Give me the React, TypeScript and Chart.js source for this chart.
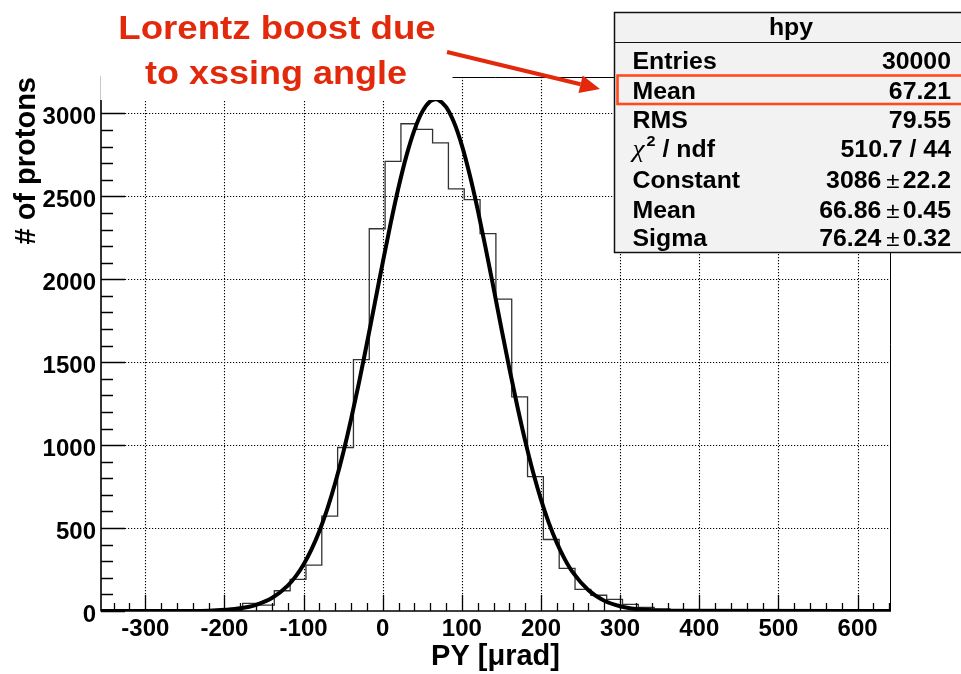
import React, { useEffect, useRef } from "react";
import { Chart, registerables } from "chart.js";

Chart.register(...registerables);

// ---- data ----
const BIN_START = -357;
const BIN_WIDTH = 20;
const BIN_COUNTS = [
  0, 0, 0, 0, 0, 0, 0, 1, 6, 46,
  35, 122, 191, 277, 572, 986, 1516, 2305, 2711, 2938,
  2904, 2823, 2546, 2480, 2275, 1880, 1291, 810, 431, 257,
  130, 95, 70, 40, 22, 12, 4, 1, 0, 0,
  0, 0, 0, 0, 0, 0, 0, 0, 0, 0,
];

const FIT_X = [
  -356, -240, -220, -200, -180, -160, -140, -120, -110, -100, -90, -80, -70, -60, -50,
  -40, -30, -20, -10, 0, 10, 20, 30, 40, 50, 60, 67, 70, 80, 90, 100, 110, 120, 130,
  140, 150, 160, 170, 180, 190, 200, 210, 220, 230, 240, 260, 280, 300, 320, 340, 360,
  380, 641,
];
const FIT_Y = [
  0, 0.5, 2, 7, 16, 37, 78, 153, 209, 281, 372, 483, 616, 773, 953,
  1156, 1377, 1613, 1857, 2101, 2337, 2555, 2746, 2900, 3011, 3074, 3086, 3083, 3040, 2947, 2808, 2629, 2420, 2190,
  1948, 1703, 1463, 1236, 1026, 837, 672, 530, 411, 313, 234, 125, 62, 29, 12, 5, 2,
  1, 0,
];

const X_TICKS = [-300, -200, -100, 0, 100, 200, 300, 400, 500, 600];
const Y_TICKS = [0, 500, 1000, 1500, 2000, 2500, 3000];
const X_MIN = -356;
const X_MAX = 641;
const Y_MAX = 3220;

const X_TITLE = "PY [\u03bcrad]";
const Y_TITLE = "# of protons";
const NOTE_LINES = ["Lorentz boost due", "to xssing angle"];

const STAT_TITLE = "hpy";
const STAT_LABELS = ["Entries", "Mean", "RMS", "chi2 / ndf", "Constant", "Mean", "Sigma"];
const STAT_VALUES = ["30000", "67.21", "79.55", "510.7 / 44", "3086", "66.86", "76.24"];
const STAT_ERRORS = ["", "", "", "", "22.2", "0.45", "0.32"];

const FONT = "'Liberation Sans', Arial, Helvetica, sans-serif";
const RED_TEXT = "#e2290c";
const RED_BOX = "#ff4a1d";

function drawText(
  ctx: CanvasRenderingContext2D,
  s: string,
  x: number,
  y: number,
  font: string,
  align: "left" | "right" | "center",
  color: string,
  sx = 1
) {
  ctx.save();
  ctx.font = font;
  ctx.fillStyle = color;
  ctx.textBaseline = "alphabetic";
  ctx.textAlign = "left";
  const w = ctx.measureText(s).width * sx;
  const left = align === "left" ? x : align === "right" ? x - w : x - w / 2;
  ctx.translate(left, y);
  ctx.scale(sx, 1);
  ctx.fillText(s, 0, 0);
  ctx.restore();
  return w;
}

const rootPlugin = {
  id: "rootDecor",
  beforeDraw(chart: any) {
    const ctx = chart.ctx as CanvasRenderingContext2D;
    ctx.save();
    ctx.fillStyle = "#ffffff";
    ctx.fillRect(0, 0, chart.width, chart.height);
    ctx.restore();
  },
  beforeDatasetsDraw(chart: any) {
    const ctx = chart.ctx as CanvasRenderingContext2D;
    const { left, right, top, bottom } = chart.chartArea;
    const xs = chart.scales.x;
    const ys = chart.scales.y;
    ctx.save();
    ctx.strokeStyle = "#000";
    ctx.lineWidth = 1.1;
    ctx.setLineDash([1.2, 1.8]);
    ctx.beginPath();
    for (const v of X_TICKS) {
      const px = Math.round(xs.getPixelForValue(v)) + 0.5;
      ctx.moveTo(px, top);
      ctx.lineTo(px, bottom);
    }
    for (const v of Y_TICKS) {
      if (v === 0) continue;
      const py = Math.round(ys.getPixelForValue(v)) + 0.5;
      ctx.moveTo(left, py);
      ctx.lineTo(right, py);
    }
    ctx.stroke();
    ctx.restore();
  },
  afterDatasetsDraw(chart: any) {
    const ctx = chart.ctx as CanvasRenderingContext2D;
    const { left, right, top, bottom } = chart.chartArea;
    const xs = chart.scales.x;
    const ys = chart.scales.y;

    // frame
    ctx.save();
    ctx.strokeStyle = "#000";
    ctx.lineWidth = 1;
    ctx.beginPath();
    ctx.moveTo(left, top + 0.5);
    ctx.lineTo(right + 0.5, top + 0.5);
    ctx.lineTo(right + 0.5, bottom);
    ctx.stroke();

    // axes
    ctx.lineWidth = 1.6;
    ctx.beginPath();
    ctx.moveTo(left - 0.5, bottom);
    ctx.lineTo(right + 1, bottom);
    ctx.moveTo(left, bottom);
    ctx.lineTo(left, top);
    ctx.stroke();

    // x ticks (inside)
    ctx.lineWidth = 1.3;
    ctx.beginPath();
    for (let v = Math.ceil(X_MIN / 20) * 20; v <= X_MAX; v += 20) {
      const px = Math.round(xs.getPixelForValue(v)) + 0.5;
      const len = v % 100 === 0 ? 16 : 8;
      ctx.moveTo(px, bottom);
      ctx.lineTo(px, bottom - len);
    }
    // y ticks (inside)
    for (let v = 0; v <= Y_MAX; v += 100) {
      const py = Math.round(ys.getPixelForValue(v)) + 0.5;
      const len = v % 500 === 0 ? 24 : 12;
      ctx.moveTo(left, py);
      ctx.lineTo(left + len, py);
    }
    ctx.stroke();
    ctx.restore();

    // white background of the annotation
    ctx.save();
    ctx.fillStyle = "#fff";
    ctx.fillRect(left - 0.5, 0, 453 - left, 100);
    ctx.strokeStyle = "#c8c8c8";
    ctx.lineWidth = 1;
    ctx.beginPath();
    ctx.moveTo(left - 0.5, top - 1);
    ctx.lineTo(left - 0.5, 100);
    ctx.stroke();
    ctx.restore();

    // annotation text
    const noteFont = `bold 33px ${FONT}`;
    drawText(ctx, NOTE_LINES[0], 277, 38.5, noteFont, "center", RED_TEXT, 1.11);
    drawText(ctx, NOTE_LINES[1], 276, 83.5, noteFont, "center", RED_TEXT, 1.09);

    // arrow
    ctx.save();
    ctx.strokeStyle = RED_TEXT;
    ctx.fillStyle = RED_TEXT;
    ctx.lineWidth = 4;
    const ax0 = 447, ay0 = 52, ax1 = 600, ay1 = 89;
    const ang = Math.atan2(ay1 - ay0, ax1 - ax0);
    const hl = 20, hw = 9;
    const bx = ax1 - hl * Math.cos(ang), by = ay1 - hl * Math.sin(ang);
    ctx.beginPath();
    ctx.moveTo(ax0, ay0);
    ctx.lineTo(bx, by);
    ctx.stroke();
    ctx.beginPath();
    ctx.moveTo(ax1, ay1);
    ctx.lineTo(bx + hw * Math.sin(ang), by - hw * Math.cos(ang));
    ctx.lineTo(bx - hw * Math.sin(ang), by + hw * Math.cos(ang));
    ctx.closePath();
    ctx.fill();
    ctx.restore();

    // stats box
    const bL = 614.5, bT = 12.5, bR = 968, bB = 252.5;
    ctx.save();
    ctx.fillStyle = "#f2f2f2";
    ctx.fillRect(bL, bT, bR - bL, bB - bT);
    ctx.strokeStyle = "#111";
    ctx.lineWidth = 1.5;
    ctx.strokeRect(bL, bT, bR - bL, bB - bT);
    ctx.lineWidth = 1.2;
    ctx.beginPath();
    ctx.moveTo(bL, 42.5);
    ctx.lineTo(bR, 42.5);
    ctx.stroke();
    ctx.restore();

    const sFont = `bold 23px ${FONT}`;
    const sx = 1.08;
    drawText(ctx, STAT_TITLE, 791, 35, sFont, "center", "#000", sx);
    const baselines = [68.5, 98.5, 127.5, 157, 188, 218, 246];
    const lx = 632.5, rx = 951;
    for (let i = 0; i < STAT_LABELS.length; i++) {
      const yb = baselines[i];
      if (STAT_LABELS[i] === "chi2 / ndf") {
        let cx = lx;
        cx += drawText(ctx, "\u03c7", cx, yb, `italic 25px 'Liberation Serif', serif`, "left", "#000", 1.1);
        cx += 2;
        cx += drawText(ctx, "2", cx, yb - 11, `bold 15px ${FONT}`, "left", "#000", sx);
        drawText(ctx, " / ndf", cx, yb, sFont, "left", "#000", sx);
      } else {
        drawText(ctx, STAT_LABELS[i], lx, yb, sFont, "left", "#000", sx);
      }
      if (STAT_ERRORS[i]) {
        let cx = rx;
        cx -= drawText(ctx, STAT_ERRORS[i], cx, yb, sFont, "right", "#000", sx);
        cx -= 3;
        cx -= drawText(ctx, "\u00b1", cx, yb, `22px ${FONT}`, "right", "#000", 1.1);
        cx -= 5;
        drawText(ctx, STAT_VALUES[i], cx, yb, sFont, "right", "#000", sx);
      } else {
        drawText(ctx, STAT_VALUES[i], rx, yb, sFont, "right", "#000", sx);
      }
    }

    // highlight rectangle around the Mean row
    ctx.save();
    ctx.strokeStyle = RED_BOX;
    ctx.lineWidth = 2.6;
    ctx.strokeRect(617.5, 75.5, 400, 28.5);
    ctx.restore();
  },
};

export default function App() {
  const ref = useRef<HTMLCanvasElement | null>(null);

  useEffect(() => {
    if (!ref.current) return;
    const histPoints = BIN_COUNTS.map((c, i) => ({ x: BIN_START + i * BIN_WIDTH, y: c }));
    histPoints.push({ x: BIN_START + BIN_COUNTS.length * BIN_WIDTH, y: 0 });
    const fitPoints = FIT_X.map((x, i) => ({ x, y: FIT_Y[i] }));

    const tickFont = { family: FONT, size: 24, weight: "bold" as const };

    const chart = new Chart(ref.current, {
      type: "line",
      data: {
        datasets: [
          {
            label: "fit",
            data: fitPoints,
            borderColor: "#000",
            borderWidth: 4,
            pointRadius: 0,
            fill: false,
            cubicInterpolationMode: "monotone",
          },
          {
            label: "hpy",
            data: histPoints,
            borderColor: "#333",
            borderWidth: 1.3,
            pointRadius: 0,
            fill: false,
            stepped: "before",
          },
        ],
      },
      options: {
        animation: false,
        responsive: true,
        maintainAspectRatio: false,
        layout: { padding: { left: 0, right: 71, top: 77, bottom: 0 } },
        plugins: { legend: { display: false }, tooltip: { enabled: false } },
        scales: {
          x: {
            type: "linear",
            min: X_MIN,
            max: X_MAX,
            afterBuildTicks: (s: any) => {
              s.ticks = X_TICKS.map((v) => ({ value: v }));
            },
            afterFit: (s: any) => {
              s.height = 63;
            },
            grid: { display: false, drawTicks: false },
            border: { display: false },
            ticks: {
              font: tickFont,
              color: "#000",
              padding: 4,
              maxRotation: 0,
              autoSkip: false,
              callback: (v: any) => String(v),
            },
            title: {
              display: true,
              text: X_TITLE,
              align: "center",
              color: "#000",
              font: { family: FONT, size: 29, weight: "bold" },
              padding: { top: 0, bottom: 0 },
            },
          },
          y: {
            type: "linear",
            min: 0,
            max: Y_MAX,
            afterBuildTicks: (s: any) => {
              s.ticks = Y_TICKS.map((v) => ({ value: v }));
            },
            afterFit: (s: any) => {
              s.width = 101;
            },
            grid: { display: false, drawTicks: false },
            border: { display: false },
            ticks: {
              font: tickFont,
              color: "#000",
              padding: 5,
              labelOffset: 4,
              autoSkip: false,
              callback: (v: any) => String(v),
            },
            title: {
              display: true,
              text: Y_TITLE,
              align: "end",
              color: "#000",
              font: { family: FONT, size: 29, weight: "bold" },
              padding: { top: 10, bottom: 0 },
            },
          },
        },
      },
      plugins: [rootPlugin],
    });
    return () => chart.destroy();
  }, []);

  return (
    <div
      style={{
        position: "fixed",
        left: 0,
        top: 0,
        width: 961,
        height: 674,
        background: "#fff",
      }}
    >
      <canvas ref={ref} />
    </div>
  );
}
